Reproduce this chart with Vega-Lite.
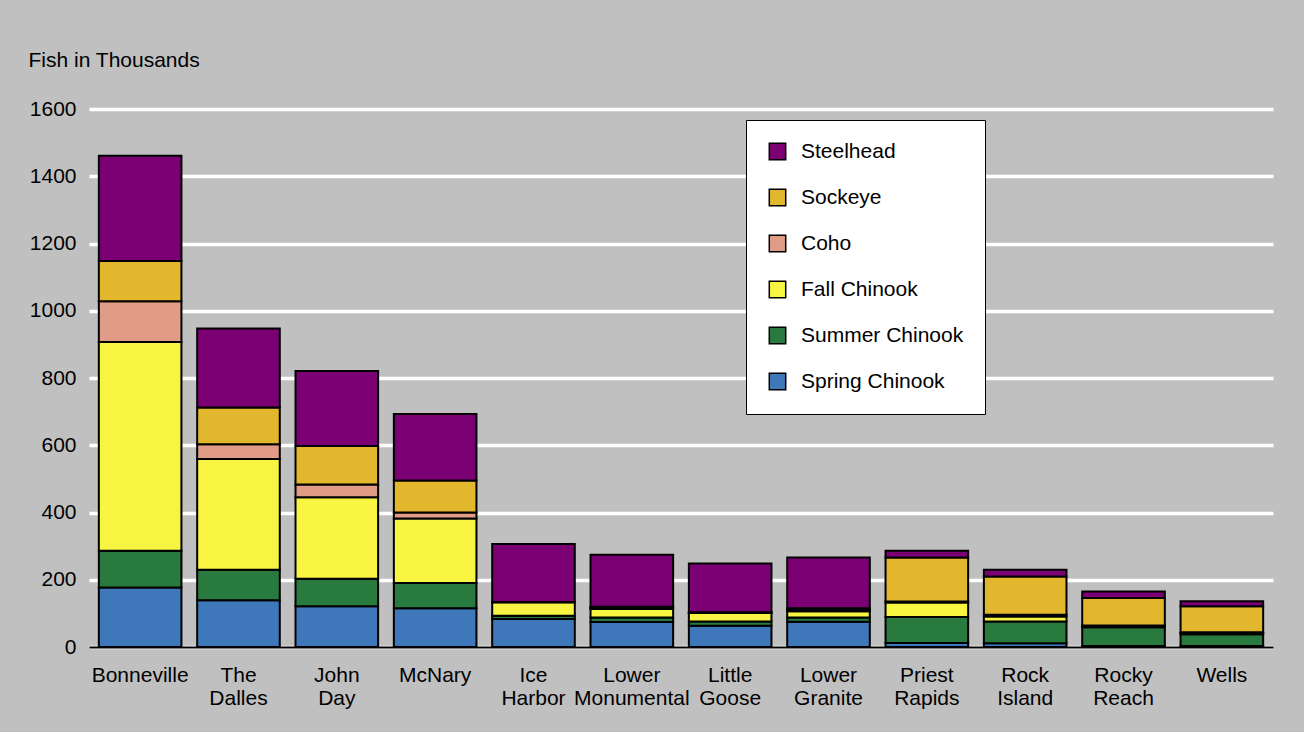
{
  "$schema": "https://vega.github.io/schema/vega-lite/v6.json",
  "width": 1184,
  "height": 538,
  "autosize": {"type": "none"},
  "padding": {"left": 89, "top": 109, "right": 31, "bottom": 85},
  "background": "#c0c0c0",
  "config": {"view": {"stroke": null}, "font": "Liberation Sans"},
  "data": {"values": [
    {"dam": "Bonneville", "species": "Spring Chinook", "fish": 177},
    {"dam": "Bonneville", "species": "Summer Chinook", "fish": 109},
    {"dam": "Bonneville", "species": "Fall Chinook", "fish": 621},
    {"dam": "Bonneville", "species": "Coho", "fish": 121},
    {"dam": "Bonneville", "species": "Sockeye", "fish": 120},
    {"dam": "Bonneville", "species": "Steelhead", "fish": 313},
    {"dam": "The Dalles", "species": "Spring Chinook", "fish": 139},
    {"dam": "The Dalles", "species": "Summer Chinook", "fish": 91},
    {"dam": "The Dalles", "species": "Fall Chinook", "fish": 329},
    {"dam": "The Dalles", "species": "Coho", "fish": 44},
    {"dam": "The Dalles", "species": "Sockeye", "fish": 109},
    {"dam": "The Dalles", "species": "Steelhead", "fish": 235},
    {"dam": "John Day", "species": "Spring Chinook", "fish": 121},
    {"dam": "John Day", "species": "Summer Chinook", "fish": 82},
    {"dam": "John Day", "species": "Fall Chinook", "fish": 242},
    {"dam": "John Day", "species": "Coho", "fish": 38},
    {"dam": "John Day", "species": "Sockeye", "fish": 115},
    {"dam": "John Day", "species": "Steelhead", "fish": 223},
    {"dam": "McNary", "species": "Spring Chinook", "fish": 115},
    {"dam": "McNary", "species": "Summer Chinook", "fish": 75},
    {"dam": "McNary", "species": "Fall Chinook", "fish": 192},
    {"dam": "McNary", "species": "Coho", "fish": 18},
    {"dam": "McNary", "species": "Sockeye", "fish": 95},
    {"dam": "McNary", "species": "Steelhead", "fish": 198},
    {"dam": "Ice Harbor", "species": "Spring Chinook", "fish": 83},
    {"dam": "Ice Harbor", "species": "Summer Chinook", "fish": 10},
    {"dam": "Ice Harbor", "species": "Fall Chinook", "fish": 40},
    {"dam": "Ice Harbor", "species": "Coho", "fish": 0},
    {"dam": "Ice Harbor", "species": "Sockeye", "fish": 1},
    {"dam": "Ice Harbor", "species": "Steelhead", "fish": 172},
    {"dam": "Lower Monumental", "species": "Spring Chinook", "fish": 74},
    {"dam": "Lower Monumental", "species": "Summer Chinook", "fish": 14},
    {"dam": "Lower Monumental", "species": "Fall Chinook", "fish": 25},
    {"dam": "Lower Monumental", "species": "Coho", "fish": 3},
    {"dam": "Lower Monumental", "species": "Sockeye", "fish": 4},
    {"dam": "Lower Monumental", "species": "Steelhead", "fish": 154},
    {"dam": "Little Goose", "species": "Spring Chinook", "fish": 63},
    {"dam": "Little Goose", "species": "Summer Chinook", "fish": 13},
    {"dam": "Little Goose", "species": "Fall Chinook", "fish": 25},
    {"dam": "Little Goose", "species": "Coho", "fish": 1},
    {"dam": "Little Goose", "species": "Sockeye", "fish": 1},
    {"dam": "Little Goose", "species": "Steelhead", "fish": 145},
    {"dam": "Lower Granite", "species": "Spring Chinook", "fish": 75},
    {"dam": "Lower Granite", "species": "Summer Chinook", "fish": 13},
    {"dam": "Lower Granite", "species": "Fall Chinook", "fish": 18},
    {"dam": "Lower Granite", "species": "Coho", "fish": 3},
    {"dam": "Lower Granite", "species": "Sockeye", "fish": 6},
    {"dam": "Lower Granite", "species": "Steelhead", "fish": 151},
    {"dam": "Priest Rapids", "species": "Spring Chinook", "fish": 12},
    {"dam": "Priest Rapids", "species": "Summer Chinook", "fish": 77},
    {"dam": "Priest Rapids", "species": "Fall Chinook", "fish": 43},
    {"dam": "Priest Rapids", "species": "Coho", "fish": 3},
    {"dam": "Priest Rapids", "species": "Sockeye", "fish": 131},
    {"dam": "Priest Rapids", "species": "Steelhead", "fish": 20},
    {"dam": "Rock Island", "species": "Spring Chinook", "fish": 11},
    {"dam": "Rock Island", "species": "Summer Chinook", "fish": 65},
    {"dam": "Rock Island", "species": "Fall Chinook", "fish": 15},
    {"dam": "Rock Island", "species": "Coho", "fish": 5},
    {"dam": "Rock Island", "species": "Sockeye", "fish": 114},
    {"dam": "Rock Island", "species": "Steelhead", "fish": 20},
    {"dam": "Rocky Reach", "species": "Spring Chinook", "fish": 3},
    {"dam": "Rocky Reach", "species": "Summer Chinook", "fish": 56},
    {"dam": "Rocky Reach", "species": "Fall Chinook", "fish": 2},
    {"dam": "Rocky Reach", "species": "Coho", "fish": 3},
    {"dam": "Rocky Reach", "species": "Sockeye", "fish": 82},
    {"dam": "Rocky Reach", "species": "Steelhead", "fish": 19},
    {"dam": "Wells", "species": "Spring Chinook", "fish": 3},
    {"dam": "Wells", "species": "Summer Chinook", "fish": 35},
    {"dam": "Wells", "species": "Fall Chinook", "fish": 3},
    {"dam": "Wells", "species": "Coho", "fish": 3},
    {"dam": "Wells", "species": "Sockeye", "fish": 77},
    {"dam": "Wells", "species": "Steelhead", "fish": 15}
  ]},
  "transform": [
    {"calculate": "indexof(['Spring Chinook', 'Summer Chinook', 'Fall Chinook', 'Coho', 'Sockeye', 'Steelhead'], datum.species)", "as": "stackOrder"}
  ],
  "mark": {"type": "bar", "stroke": "black", "strokeWidth": 2, "opacity": 1},
  "encoding": {
    "x": {
      "field": "dam", "type": "nominal", "sort": null,
      "scale": {"paddingInner": 0.16, "paddingOuter": 0.1},
      "axis": {
        "title": null, "labelAngle": 0, "labelFontSize": 21, "labelColor": "black",
        "labelExpr": "split(datum.value, ' ')", "labelLineHeight": 23,
        "labelBaseline": "top", "labelPadding": 17, "ticks": false,
        "domainColor": "black", "domainWidth": 2, "grid": false, "zindex": 1,
        "labelOverlap": false, "labelLimit": 300
      }
    },
    "y": {
      "field": "fish", "type": "quantitative", "stack": "zero",
      "scale": {"domain": [0, 1600], "nice": false},
      "axis": {
        "title": "Fish in Thousands", "titleAngle": 0, "titleX": -61, "titleY": -43,
        "titleAlign": "left", "titleBaseline": "alphabetic", "titleFontSize": 21,
        "titleFontWeight": "normal", "titleColor": "black", "format": "d",
        "values": [0, 200, 400, 600, 800, 1000, 1200, 1400, 1600],
        "labelFontSize": 21, "labelColor": "black", "labelPadding": 13,
        "ticks": false, "domain": false, "gridColor": "white", "gridWidth": 3.5, "gridOpacity": 1
      }
    },
    "order": {"field": "stackOrder", "type": "quantitative", "sort": "ascending"},
    "color": {
      "field": "species", "type": "nominal",
      "scale": {
        "domain": ["Steelhead", "Sockeye", "Coho", "Fall Chinook", "Summer Chinook", "Spring Chinook"],
        "range": ["#7b0074", "#e3b72d", "#e19c87", "#f8f442", "#287a3e", "#3f77bb"]
      },
      "legend": {
        "title": null, "orient": "none", "legendX": 657, "legendY": 11,
        "fillColor": "white", "strokeColor": "black", "padding": 21, "rowPadding": 23,
        "labelFontSize": 21, "labelColor": "black", "labelOffset": 13, "labelLimit": 400,
        "symbolType": "square", "symbolSize": 270, "symbolStrokeColor": "black",
        "symbolStrokeWidth": 1.5, "symbolOpacity": 1,
        "labelExpr": "datum.label + '\u00a0\u00a0\u00a0\u00a0'"
      }
    }
  }
}
